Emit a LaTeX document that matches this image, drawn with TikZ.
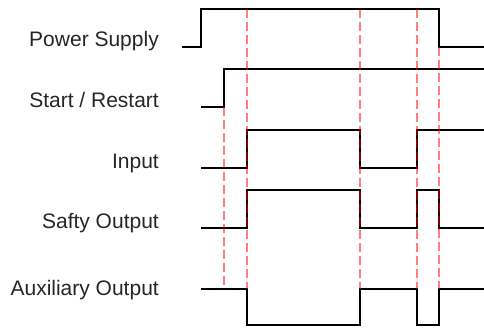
\documentclass[tikz,border=0pt]{standalone}
\usepackage{fontspec}
\setmainfont{Liberation Sans}
\begin{document}
\begin{tikzpicture}[x=1pt,y=-1pt,
  wave/.style={draw=black,line width=2pt,line join=miter},
  marker/.style={draw=red,opacity=0.5,line width=1.4pt,dash pattern=on 9pt off 4pt},
  siglabel/.style={anchor=base east,inner sep=0pt,text=black!85,font=\fontsize{21}{25}\selectfont}]
\useasboundingbox (0,0) rectangle (484,327);
% labels
\node[siglabel] (lpower) at (159,46) {Power Supply};
\node[siglabel] (lstart) at (159,107) {Start / Restart};
\node[siglabel] (linput) at (159,168) {Input};
\node[siglabel] (lsafe) at (159,228) {Safty Output};
\node[siglabel] (laux) at (159,295) {Auxiliary Output};
% waveforms
\draw[wave] (182,47) -- (201,47) -- (201,9) -- (439,9) -- (439,47) -- (484,47);
\draw[wave] (201,107) -- (224,107) -- (224,69) -- (484,69);
\draw[wave] (201,168) -- (247,168) -- (247,130) -- (360,130) -- (360,168) -- (417,168) -- (417,130) -- (484,130);
\draw[wave] (201,228) -- (247,228) -- (247,190) -- (360,190) -- (360,228) -- (417,228) -- (417,190) -- (439,190) -- (439,228) -- (484,228);
\draw[wave] (201,289) -- (247,289) -- (247,325) -- (360,325) -- (360,289) -- (417,289) -- (417,325) -- (439,325) -- (439,289) -- (484,289);
% markers
\draw[marker] (224,107) -- (224,289);
\draw[marker] (247,9) -- (247,289);
\draw[marker] (360,9) -- (360,289);
\draw[marker] (417,9) -- (417,289);
\draw[marker] (439,47) -- (439,289);
\end{tikzpicture}
\end{document}
